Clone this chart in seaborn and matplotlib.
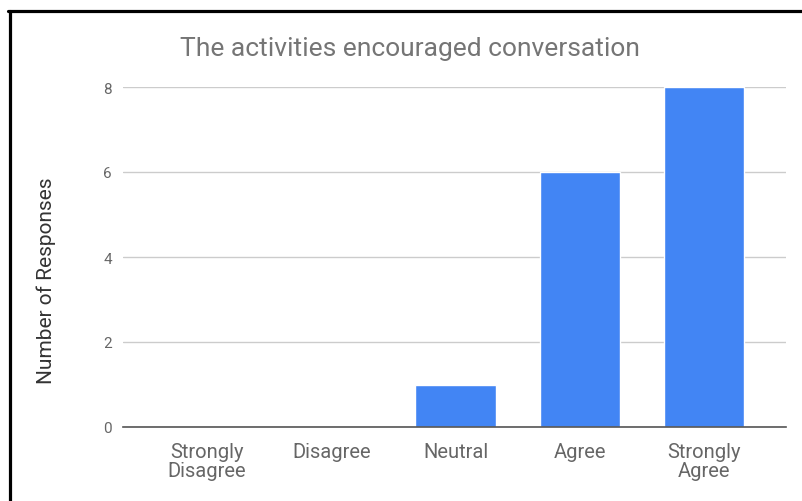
import matplotlib
matplotlib.use("Agg")
import matplotlib.pyplot as plt
from matplotlib.lines import Line2D
import seaborn as sns
import pandas as pd

# survey answers
categories = ["Strongly\nDisagree", "Disagree", "Neutral", "Agree", "Strongly\nAgree"]
responses = [0, 0, 1, 6, 8]
y_ticks = [0, 2, 4, 6, 8]

sns.set_style("white")
plt.rcParams["font.family"] = ["Roboto", "DejaVu Sans"]

df = pd.DataFrame({"answer": categories, "count": responses})

W, H = 802, 502
fig = plt.figure(figsize=(W / 100, H / 100), dpi=100)
ax = fig.add_axes([123 / W, 74 / H, 663 / W, 340 / H])

sns.barplot(data=df, x="answer", y="count", color="#4285f4", saturation=1,
            width=0.645, ax=ax, zorder=3)

ax.set_xlim(-0.677, 4.66)
ax.set_ylim(0, 8)
ax.set_yticks(y_ticks)
ax.set_yticklabels([str(t) for t in y_ticks], fontsize=11, color="#666666")
ax.tick_params(axis="y", length=0, pad=8)
ax.tick_params(axis="x", length=0, pad=11, labelsize=14.5, labelcolor="#666666")
for lbl in ax.get_xticklabels():
    lbl.set_linespacing(1.0)

ax.grid(axis="y", color="#cccccc", linewidth=1, zorder=0)
ax.grid(axis="x", visible=False)
for side in ["top", "right", "left"]:
    ax.spines[side].set_visible(False)
ax.spines["bottom"].set_color("#555555")
ax.spines["bottom"].set_linewidth(1.2)
ax.spines["bottom"].set_zorder(4)
for b in ax.patches:
    b.set_clip_on(False)

ax.set_xlabel("")
ax.set_ylabel("Number of Responses", fontsize=15, color="#333333")
ax.yaxis.set_label_coords(-0.101, 0.432)

fig.text(410 / W, 1 - 49 / H, "The activities encouraged conversation",
         ha="center", va="center", fontsize=19, color="#757575")

# black frame around the screenshot
fig.add_artist(Line2D([9.5 / W, 9.5 / W], [0, 1 - 11.5 / H], color="black",
                      linewidth=2.3, transform=fig.transFigure))
fig.add_artist(Line2D([8 / W, 1], [1 - 11.5 / H, 1 - 11.5 / H], color="black",
                      linewidth=2.3, transform=fig.transFigure))

fig.savefig("out.png", dpi=100, facecolor="white")
